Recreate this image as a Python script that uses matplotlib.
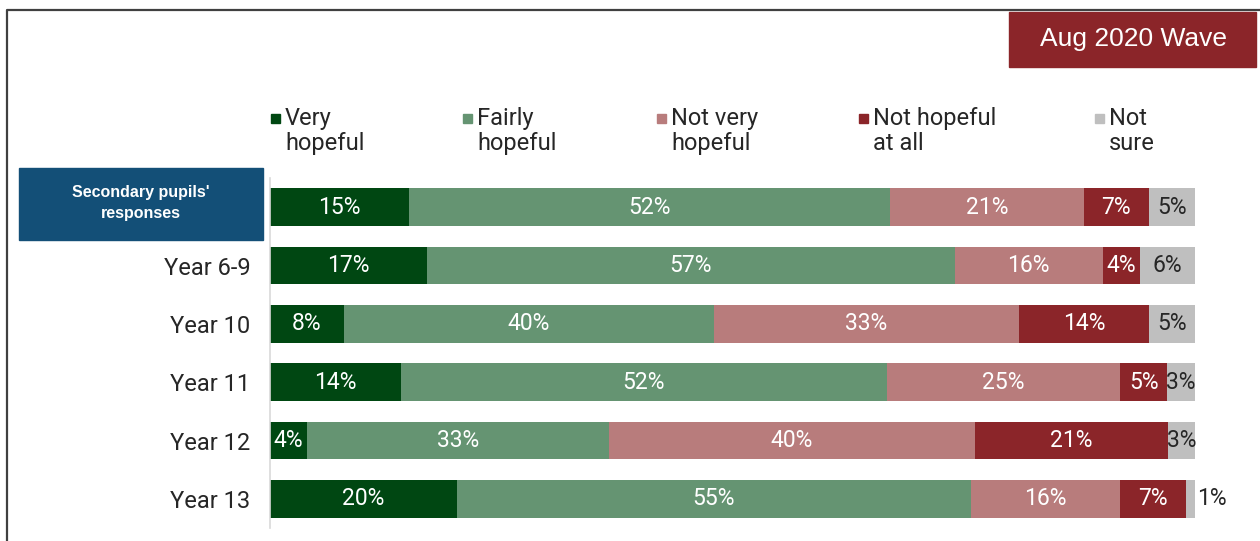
import numpy as np
import matplotlib.pyplot as plt
from matplotlib.patches import Rectangle

plt.rcParams['font.family'] = ['Roboto', 'DejaVu Sans']

# data
categories = ["Secondary pupils'\nresponses", 'Year 6-9', 'Year 10', 'Year 11', 'Year 12', 'Year 13']
series = ['Very\nhopeful', 'Fairly\nhopeful', 'Not very\nhopeful', 'Not hopeful\nat all', 'Not\nsure']
very_hopeful = [15, 17, 8, 14, 4, 20]
fairly_hopeful = [52, 57, 40, 52, 33, 55]
not_very_hopeful = [21, 16, 33, 25, 40, 16]
not_hopeful_at_all = [7, 4, 14, 5, 21, 7]
not_sure = [5, 6, 5, 3, 3, 1]
colors = ['#004712', '#659472', '#B87C7C', '#8B2529', '#BFBFBF']
label_colors = ['white', 'white', 'white', 'white', '#262626']
legend_x = [271, 463, 657, 859, 1095]  # marker left edge in px


def draw():
    W, H = 1260, 541
    fig = plt.figure(figsize=(12.6, 5.41), dpi=100)
    ax = fig.add_axes([270 / W, 1 - 528 / H, 925 / W, 350 / H])

    vals = np.array([very_hopeful, fairly_hopeful, not_very_hopeful,
                     not_hopeful_at_all, not_sure], dtype=float)
    # 100% stacked: scale each row to 100
    shares = vals / vals.sum(axis=0) * 100
    y = np.arange(len(categories))
    left = np.zeros(len(categories))
    for i in range(len(series)):
        ax.barh(y, shares[i], left=left, height=0.65, color=colors[i], linewidth=0)
        for j in range(len(categories)):
            v = vals[i, j]
            if v < 2:
                ax.text(left[j] + shares[i, j] + 0.2, y[j], '%d%%' % v, ha='left', va='center',
                        fontsize=16.5, color='#262626')
            else:
                ax.text(left[j] + shares[i, j] / 2, y[j], '%d%%' % v, ha='center', va='center',
                        fontsize=16.5, color=label_colors[i])
        left += shares[i]

    ax.set_xlim(0, 100)
    ax.set_ylim(5.5, -0.5)
    ax.set_xticks([])
    ax.set_yticks(y)
    ax.set_yticklabels([''] + categories[1:], fontsize=17, color='#262626')
    ax.tick_params(axis='y', length=0, pad=14)
    for s in ['top', 'right', 'bottom']:
        ax.spines[s].set_visible(False)
    ax.spines['left'].set_color('#D9D9D9')
    ax.spines['left'].set_linewidth(1.2)

    # first category in a box
    fig.patches.append(Rectangle((19 / W, 1 - 240 / H), 244 / W, 72 / H,
                                 transform=fig.transFigure, color='#134F77'))
    fig.text(141 / W, 1 - 203 / H, categories[0], ha='center', va='center',
             fontsize=11.5, fontweight='bold', color='white', family='Liberation Sans',
             linespacing=1.5)

    # wave box
    fig.patches.append(Rectangle((1009 / W, 1 - 67 / H), 247 / W, 55 / H,
                                 transform=fig.transFigure, color='#8B2529'))
    fig.text(1133 / W, 1 - 39 / H, 'Aug 2020 Wave', ha='center', va='center',
             fontsize=19, color='white', family='Liberation Sans')

    # legend
    for i, name in enumerate(series):
        x0 = legend_x[i]
        fig.patches.append(Rectangle((x0 / W, 1 - 123 / H), 9 / W, 9 / H,
                                     transform=fig.transFigure, color=colors[i]))
        fig.text((x0 + 14) / W, 1 - 107 / H, name, ha='left', va='top',
                 fontsize=17, color='#262626', linespacing=1.12)

    # outer frame
    fig.add_artist(plt.Line2D([7 / W, 7 / W, 1], [0, 1 - 10 / H, 1 - 10 / H],
                              transform=fig.transFigure, color='#404040', linewidth=1.6))

    fig.savefig('out.png', dpi=100)


if __name__ == "__main__":
    draw()
